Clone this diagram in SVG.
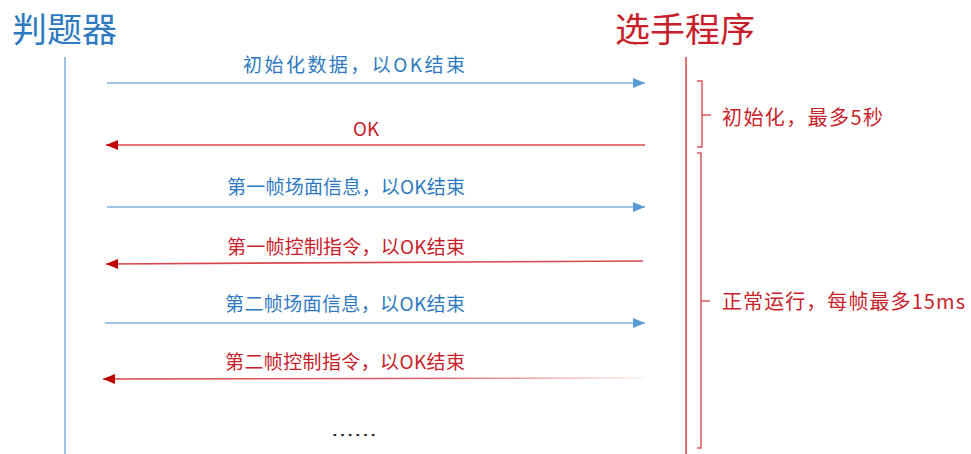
<svg xmlns="http://www.w3.org/2000/svg" width="971" height="454" viewBox="0 0 971 454">
<style>
text{font-family:"Noto Sans CJK SC","Noto Sans",sans-serif;}
.title{font-size:34px;}
.tb{fill:#2E7AC0;}
.tr{fill:#C8202A;}
.lbl{font-size:19px;}
.side{font-size:20px;fill:#C8232C;}
.lifeB{stroke:#9DC3E6;stroke-width:2;fill:none;}
.lifeR{stroke:#E07070;stroke-width:2;fill:none;}
.ab{stroke:#7EB1DE;stroke-width:1.6;fill:none;marker-end:url(#hb);}
.ar{stroke:#D9464B;stroke-width:1.6;fill:none;marker-end:url(#hr);}
.brace{stroke:#D9575B;stroke-width:1.5;fill:none;}
</style>
<defs>
<marker id="hb" viewBox="0 0 12 10" refX="12" refY="5" markerWidth="12" markerHeight="10" markerUnits="userSpaceOnUse" orient="auto">
<path d="M0,0 L12,5 L0,10 z" fill="#5B9BD5"/>
</marker>
<marker id="hr" viewBox="0 0 12 10" refX="12" refY="5" markerWidth="12" markerHeight="10" markerUnits="userSpaceOnUse" orient="auto">
<path d="M0,0 L12,5 L0,10 z" fill="#C00000"/>
</marker>
<linearGradient id="fade" gradientUnits="userSpaceOnUse" x1="106" y1="0" x2="645" y2="0">
<stop offset="0" stop-color="#D9464B" stop-opacity="1"/>
<stop offset="0.6" stop-color="#D9464B" stop-opacity="0.85"/>
<stop offset="1" stop-color="#D9464B" stop-opacity="0.08"/>
</linearGradient>
</defs>

<g id="judge">
<text class="title tb" x="12" y="42" textLength="105" lengthAdjust="spacingAndGlyphs">判题器</text>
<line class="lifeB" x1="65" y1="57" x2="65" y2="454"/>
</g>
<g id="player">
<text class="title tr" x="615" y="42" textLength="140" lengthAdjust="spacingAndGlyphs">选手程序</text>
<line class="lifeR" x1="686" y1="57" x2="686" y2="454"/>
</g>

<g id="connectors">
<line class="ab" x1="107" y1="83" x2="645" y2="83"/>
<line class="ar" x1="645" y1="145" x2="106" y2="145"/>
<line class="ab" x1="107" y1="207" x2="645" y2="207"/>
<line class="ar" x1="643" y1="261" x2="106" y2="264"/>
<line class="ab" x1="105" y1="323" x2="645" y2="323"/>
<line x1="645" y1="378" x2="103" y2="379" stroke="url(#fade)" stroke-width="1.6" fill="none" marker-end="url(#hr)"/>
</g>

<g id="labels">
<text class="lbl tb" x="243" y="72" textLength="222" lengthAdjust="spacing">初始化数据，以OK结束</text>
<text class="lbl tr" x="353" y="136" textLength="26" lengthAdjust="spacingAndGlyphs">OK</text>
<text class="lbl tb" x="227" y="194" textLength="238" lengthAdjust="spacing">第一帧场面信息，以OK结束</text>
<text class="lbl tr" x="227" y="254" textLength="238" lengthAdjust="spacing">第一帧控制指令，以OK结束</text>
<text class="lbl tb" x="225" y="311" textLength="240" lengthAdjust="spacing">第二帧场面信息，以OK结束</text>
<text class="lbl tr" x="225" y="369" textLength="240" lengthAdjust="spacing">第二帧控制指令，以OK结束</text>
<text x="331" y="441" font-size="16" fill="#222" textLength="46" lengthAdjust="spacingAndGlyphs">……</text>
</g>

<g id="init-phase">
<path class="brace" d="M697,81 H702 V147 H697 M702,115 H711"/>
<text class="side" x="722" y="125" textLength="161" lengthAdjust="spacing">初始化，最多5秒</text>
</g>
<g id="run-phase">
<path class="brace" d="M697,153 H701 V448 H697 M701,301 H710"/>
<text class="side" x="722" y="309" textLength="243" lengthAdjust="spacing">正常运行，每帧最多15ms</text>
</g>
</svg>
